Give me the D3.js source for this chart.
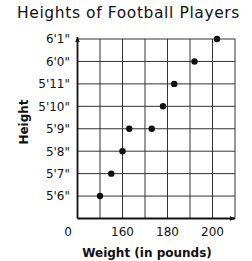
<!DOCTYPE html>
<html>
<head>
    <meta charset="utf-8">
    <title>Heights of Football Players</title>
    <style>
        body { margin: 0; background: #fff; }
        text { font-family: "DejaVu Sans", sans-serif; fill: #111; }
    </style>
</head>
<body>
<svg id="svg"></svg>
<script src="https://cdn.jsdelivr.net/npm/d3@7"></script>
<script>
    // weight in pounds, height in inches
    const weights = [150, 155, 160, 163, 173, 178, 183, 192, 202]
    const heights = [66, 67, 68, 69, 69, 70, 71, 72, 73]
    const heightTicks = [66, 67, 68, 69, 70, 71, 72, 73]
    const heightLabels = ['5\'6"', '5\'7"', '5\'8"', '5\'9"', '5\'10"', '5\'11"', '6\'0"', '6\'1"']
    const weightTicks = [160, 180, 200]
    const gridWeights = [150, 160, 170, 180, 190, 200, 210]

    const WIDTH = 252
    const HEIGHT = 261

    const svg = d3.select('svg')
        .attr('width', WIDTH)
        .attr('height', HEIGHT)

    const x = d3.scaleLinear().domain([140, 210]).range([77.5, 235])
    const y = d3.scaleLinear().domain([65, 73]).range([218.5, 39])

    svg.append('defs').append('marker')
        .attr('id', 'arrow')
        .attr('viewBox', '0 0 10 10')
        .attr('refX', 9).attr('refY', 5)
        .attr('markerWidth', 6).attr('markerHeight', 6)
        .attr('markerUnits', 'userSpaceOnUse')
        .attr('orient', 'auto')
        .append('path')
        .attr('d', 'M0,1 L10,5 L0,9 Z')
        .attr('fill', '#111')

    // title
    svg.append('text')
        .attr('x', 128.5).attr('y', 18)
        .attr('text-anchor', 'middle')
        .attr('font-size', 15.5)
        .attr('letter-spacing', 0.6)
        .text('Heights of Football Players')

    // grid
    const grid = svg.append('g').attr('stroke', '#333').attr('stroke-width', 1)
    grid.selectAll('line.v')
        .data(gridWeights)
        .enter().append('line')
        .attr('class', 'v')
        .attr('x1', d => x(d)).attr('x2', d => x(d))
        .attr('y1', y(73)).attr('y2', y(65))
    grid.selectAll('line.h')
        .data(heightTicks)
        .enter().append('line')
        .attr('class', 'h')
        .attr('x1', x(140)).attr('x2', x(210))
        .attr('y1', d => y(d)).attr('y2', d => y(d))

    // axes
    svg.append('line')
        .attr('x1', x(140)).attr('x2', x(140))
        .attr('y1', y(65)).attr('y2', y(73) - 2)
        .attr('stroke', '#111').attr('stroke-width', 1.8)
        .attr('marker-end', 'url(#arrow)')
    svg.append('line')
        .attr('x1', x(140)).attr('x2', x(210))
        .attr('y1', y(65)).attr('y2', y(65))
        .attr('stroke', '#111').attr('stroke-width', 1.8)
        .attr('marker-end', 'url(#arrow)')

    // y tick labels
    svg.append('g').selectAll('text')
        .data(heightTicks)
        .enter().append('text')
        .attr('x', 70)
        .attr('y', d => y(d))
        .attr('dy', '0.36em')
        .attr('text-anchor', 'end')
        .attr('font-size', 12)
        .text((d, i) => heightLabels[i])

    // x tick labels
    svg.append('g').selectAll('text')
        .data(weightTicks)
        .enter().append('text')
        .attr('x', d => x(d))
        .attr('y', 236)
        .attr('text-anchor', 'middle')
        .attr('font-size', 12)
        .text(d => d)
    svg.append('text')
        .attr('x', 68).attr('y', 236)
        .attr('text-anchor', 'middle')
        .attr('font-size', 12)
        .text('0')

    // axis titles
    svg.append('text')
        .attr('x', 147).attr('y', 257)
        .attr('text-anchor', 'middle')
        .attr('font-size', 12)
        .attr('font-weight', 'bold')
        .text('Weight (in pounds)')
    svg.append('text')
        .attr('transform', 'translate(28,122) rotate(-90)')
        .attr('text-anchor', 'middle')
        .attr('font-size', 12)
        .attr('font-weight', 'bold')
        .text('Height')

    // points
    svg.append('g').selectAll('circle')
        .data(weights)
        .enter().append('circle')
        .attr('cx', d => x(d))
        .attr('cy', (d, i) => y(heights[i]))
        .attr('r', 3.2)
        .attr('fill', '#111')
</script>
</body>
</html>
